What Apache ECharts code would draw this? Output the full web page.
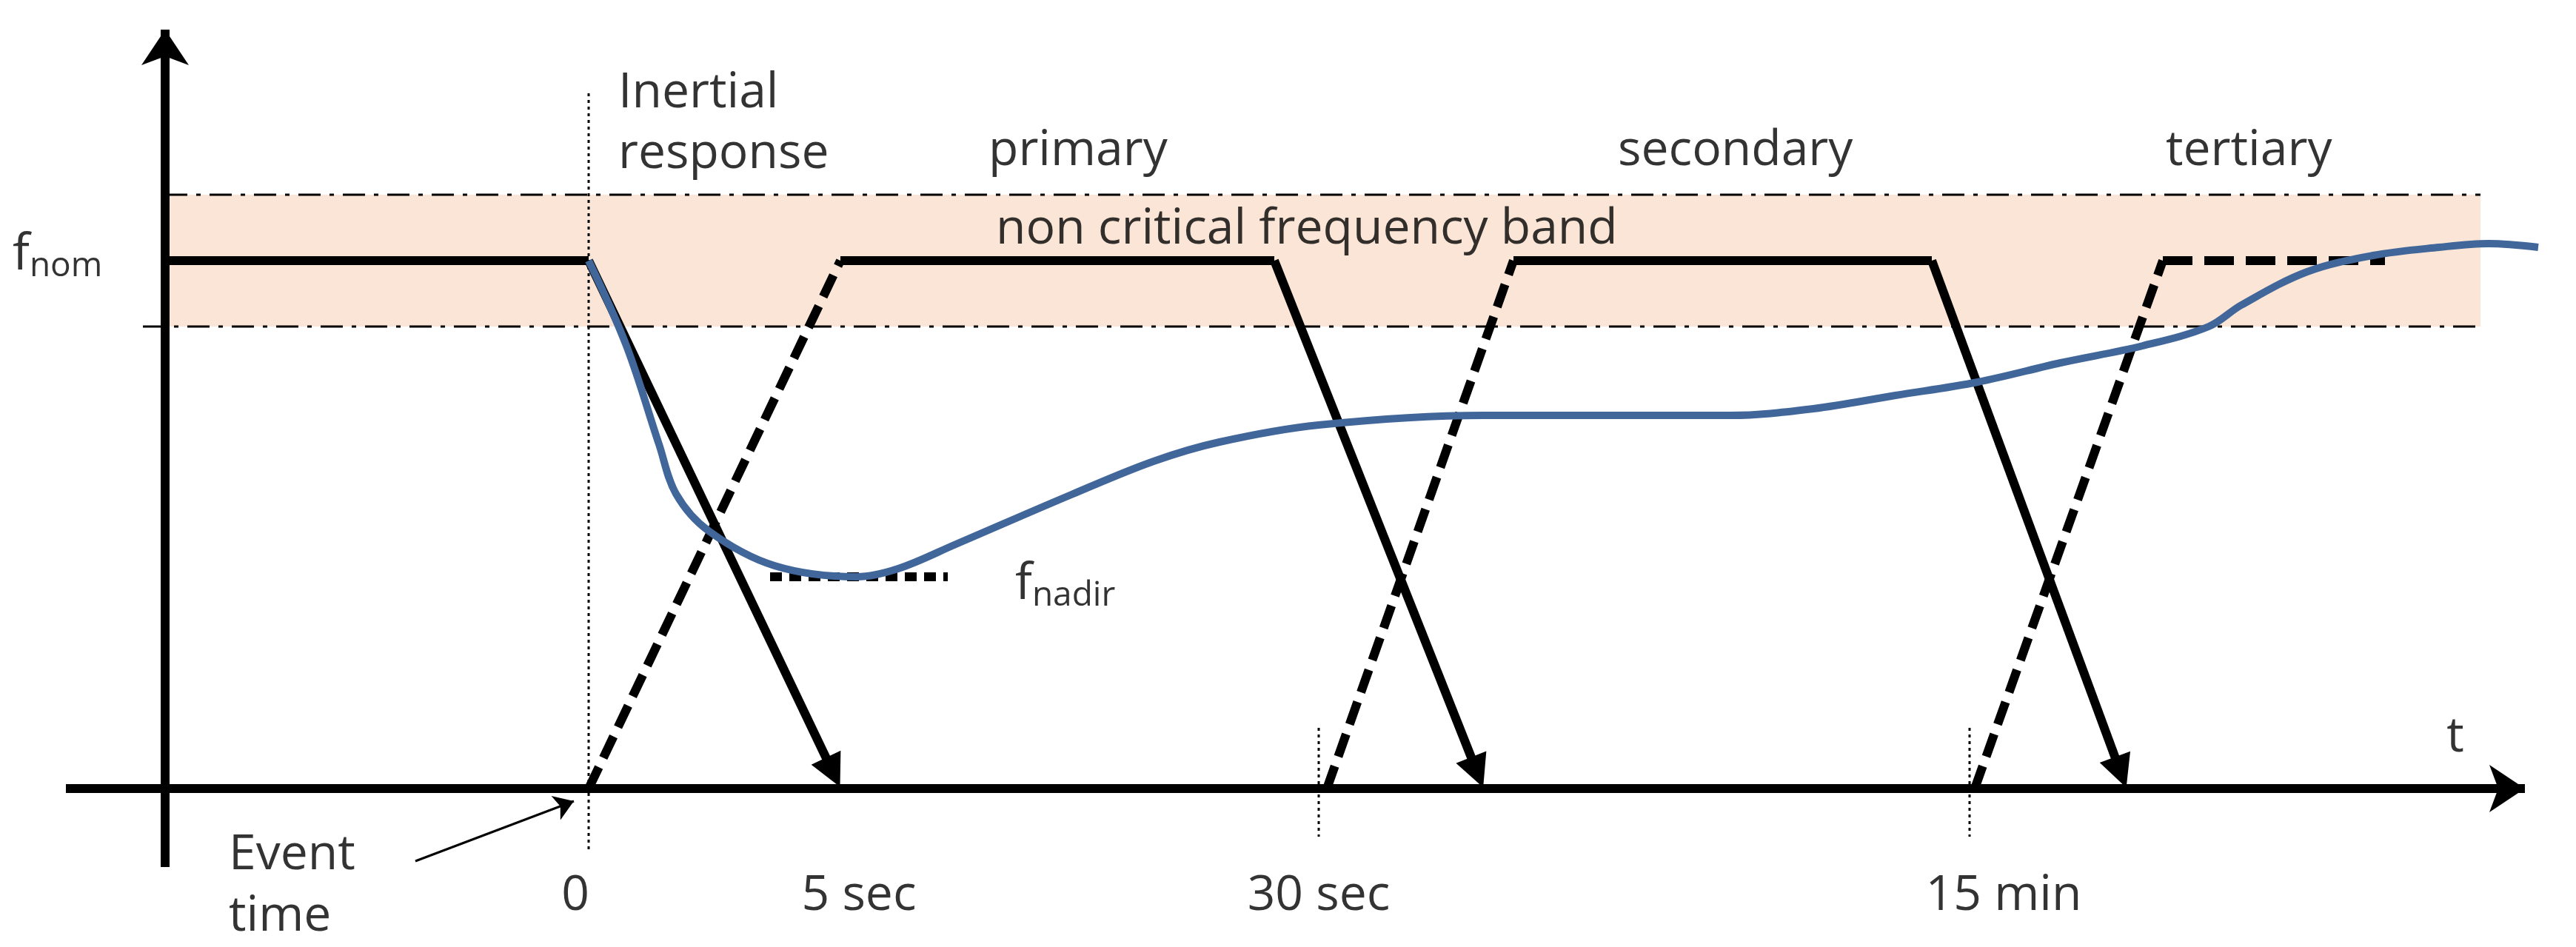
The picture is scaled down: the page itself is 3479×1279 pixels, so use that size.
<!DOCTYPE html>
<html><head><meta charset="utf-8">
<script src="https://cdn.jsdelivr.net/npm/echarts@6/dist/echarts.min.js"></script>
<style>html,body{margin:0;padding:0;background:#fff}#c{width:3479px;height:1279px}</style>
</head><body><div id="c"></div>
<script>
// coordinates in the diagram's own (schematic) units: x = time position, y = frequency position (inverted)
const bandTop = 263, bandBottom = 441, bandLeft = 223, bandRight = 3350;
const fnomLine = [[223,352],[795,352]];
const inertialArrow = [[795,352],[1125,1043]];
const primaryRise = [[795,1065],[1135,352]];
const primaryTop = [[1135,352],[1721,352]];
const primaryArrow = [[1721,352],[1995,1043]];
const secondaryRise = [[1792,1065],[2044,352]];
const secondaryTop = [[2044,352],[2609,352]];
const secondaryArrow = [[2609,352],[2864,1043]];
const tertiaryRise = [[2667,1065],[2921,352]];
const tertiaryTop = [[2921,352],[3221,352]];
const freqCurve = [[795,352],[846,467],[890,600],[913,667],[957,717],[1046,764],[1157,779],[1213,768],[1291,735],[1447,668],[1558,623],[1647,597],[1781,574],[2003,561],[2226,561],[2337,561],[2449,552],[2560,534],[2671,516],[2783,490],[2894,467],[2983,441],[3027,412],[3116,367],[3205,345],[3294,334],[3361,329],[3428,334]];
const nadirLine = [[1040,779],[1280,779]];
const eventLine = [[795,126],[795,1150]];
const tick30 = [[1781,983],[1781,1130]];
const tick15 = [[2660,983],[2660,1130]];
const labels = [
  ['Inertial',835,126,'left'],['response',835,208,'left'],['primary',1335,204,'left'],
  ['secondary',2185,204,'left'],['tertiary',2925,204,'left'],['non critical frequency band',1345,310,'left'],
  ['{b|f}{s|nom}',17,345,'left'],['{b|f}{s|nadir}',1371,790,'left'],['t',3316,996,'center'],
  ['Event',309,1155,'left'],['time',309,1238,'left'],['0',777,1210,'center'],['5 sec',1160,1210,'center'],
  ['30 sec',1781,1210,'center'],['15 min',2706,1210,'center']
];
const F = 'Open Sans, Lato, sans-serif';
function ln(data, opt){return Object.assign({type:'line',data,symbol:'none',silent:true,animation:false,lineStyle:{color:'#000',width:12}},opt||{});}
const solidArrows = [inertialArrow, primaryArrow, secondaryArrow].map(a=>({coords:a}));
const chart = echarts.init(document.getElementById('c'));
chart.setOption({
  animation:false,
  grid:{left:0,right:0,top:0,bottom:0},
  xAxis:{type:'value',min:0,max:3479,show:false},
  yAxis:{type:'value',min:0,max:1279,inverse:true,show:false},
  series:[
    {type:'line',data:[],markArea:{silent:true,itemStyle:{color:'#fbe5d6'},data:[[{coord:[bandLeft,bandTop]},{coord:[bandRight,bandBottom]}]]}},
    ln([[bandLeft,bandTop],[bandRight,bandTop]],{lineStyle:{color:'#000',width:3,type:[30,12,6,12]}}),
    ln([[bandLeft-30,bandBottom],[bandRight,bandBottom]],{lineStyle:{color:'#000',width:3,type:[30,12,6,12]}}),
    ln(eventLine,{lineStyle:{color:'#000',width:3,type:[4,5]}}),
    ln(tick30,{lineStyle:{color:'#000',width:3,type:[4,5]}}),
    ln(tick15,{lineStyle:{color:'#000',width:3,type:[4,5]}}),
    {type:'lines',coordinateSystem:'cartesian2d',silent:true,animation:false,symbol:['none','arrow'],symbolSize:[0,48],
      lineStyle:{color:'#000',width:12,opacity:1},data:[{coords:[[223,1171],[223,40]]},{coords:[[89,1065],[3410,1065]]}]},
    ln(fnomLine),
    ln(primaryTop),ln(secondaryTop),
    ln(primaryRise,{lineStyle:{color:'#000',width:12,type:[32,14]}}),
    ln(secondaryRise,{lineStyle:{color:'#000',width:12,type:[32,14]}}),
    ln(tertiaryRise,{lineStyle:{color:'#000',width:12,type:[32,14]}}),
    ln(tertiaryTop,{lineStyle:{color:'#000',width:12,type:[40,16]}}),
    ln(nadirLine,{lineStyle:{color:'#000',width:12,type:[16,10]}}),
    {type:'lines',coordinateSystem:'cartesian2d',silent:true,animation:false,symbol:['none','triangle'],symbolSize:[0,44],
      lineStyle:{color:'#000',width:12,opacity:1},data:solidArrows},
    {type:'lines',coordinateSystem:'cartesian2d',silent:true,animation:false,symbol:['none','arrow'],symbolSize:[0,26],
      lineStyle:{color:'#000',width:3,opacity:1},data:[{coords:[[561,1163],[775,1082]]}]},
    ln(freqCurve,{smooth:0.35,lineStyle:{color:'#41669a',width:10}}),
    {type:'scatter',symbolSize:0,silent:true,animation:false,
      data:labels.map(l=>({value:[l[1],l[2]],label:{align:l[3]}})),
      label:{show:true,position:'inside',verticalAlign:'middle',color:'#000',fontFamily:F,fontSize:66,
        formatter:p=>labels[p.dataIndex][0],
        rich:{b:{fontSize:68,fontFamily:F,color:'#000'},s:{fontSize:46,fontFamily:F,color:'#000',padding:[30,0,0,0]}}}}
  ]
});
</script></body></html>
